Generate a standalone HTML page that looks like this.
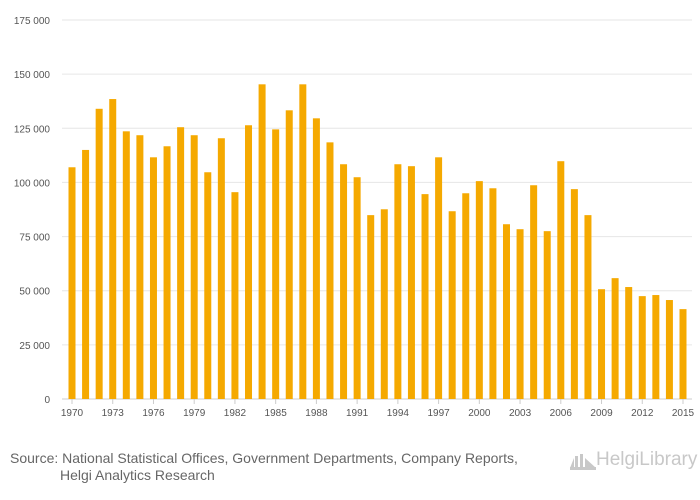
<!DOCTYPE html>
<html><head><meta charset="utf-8"><style>
body{margin:0;background:#fff;font-family:"Liberation Sans",sans-serif;}
#wrap{position:relative;width:700px;height:500px;overflow:hidden;}
.src{position:absolute;left:10px;top:450px;font-size:14px;color:#666;line-height:17px;}
.src span{display:block;padding-left:50px;}
.logo{position:absolute;left:570px;top:449px;font-size:19px;color:#c8c8c8;white-space:nowrap;display:flex;align-items:center;}
</style></head><body>
<div id="wrap">
<svg id="chart" width="700" height="440"></svg>
<div class="src">Source: National Statistical Offices, Government Departments, Company Reports,<span>Helgi Analytics Research</span></div>
<div class="logo"><svg width="26" height="20" viewBox="0 0 26 20"><path d="M0 18 L4 8 L4 18 Z M5 18 V6 H8 V18 Z M10 18 V4 H13 V18 Z M15 18 V8 L26 18 Z" fill="#c8c8c8"/><rect x="0" y="17" width="26" height="3" fill="#c8c8c8"/></svg>HelgiLibrary</div>
</div>
<script>
const years=[1970,1971,1972,1973,1974,1975,1976,1977,1978,1979,1980,1981,1982,1983,1984,1985,1986,1987,1988,1989,1990,1991,1992,1993,1994,1995,1996,1997,1998,1999,2000,2001,2002,2003,2004,2005,2006,2007,2008,2009,2010,2011,2012,2013,2014,2015];
const values=[107000,115000,134000,138500,123600,121800,111600,116700,125500,121800,104700,120400,95500,126400,145300,124500,133300,145300,129600,118500,108400,102400,84900,87600,108400,107500,94600,111600,86700,95000,100600,97300,80700,78400,98700,77500,109800,96900,84900,50700,55800,51700,47500,48000,45700,41500];
const yTicks=[0,25000,50000,75000,100000,125000,150000,175000];
const xLabelEvery=3;
const NS="http://www.w3.org/2000/svg";
const svg=document.getElementById('chart');
const x0=72,x1=683,yBase=399,yTop=20,yMax=175000;
const xs=i=>x0+(x1-x0)*i/(years.length-1);
const ys=v=>yBase-(yBase-yTop)*v/yMax;
function mk(t,a){const e=document.createElementNS(NS,t);for(const k in a)e.setAttribute(k,a[k]);svg.appendChild(e);return e;}
const fmt=v=>v===0?"0":String(v).replace(/\B(?=(\d{3})+(?!\d))/g," ");
yTicks.forEach(v=>{
 const g=mk('line',{x1:62,x2:692,y1:ys(v),y2:ys(v),stroke:v===0?'#ccc':'#e6e6e6','stroke-width':1});
 
 
 const t=mk('text',{x:50,y:ys(v)+4,'text-anchor':'end','font-size':10,fill:'#555'});
 t.textContent=fmt(v);
 
 
});
years.forEach((yr,i)=>{
 const r=mk('rect',{x:xs(i)-3.5,y:ys(values[i]),width:7,height:yBase-ys(values[i]),fill:'#f5a900'});
 
 
 if(i%xLabelEvery===0){
  const tk=mk('line',{x1:xs(i),x2:xs(i),y1:yBase,y2:yBase+5,stroke:'#ccc'});
  
  
  const t=mk('text',{x:xs(i),y:yBase+17,'text-anchor':'middle','font-size':10,fill:'#555'});
  t.textContent=yr;
  
  
 }
});
</script>
</body></html>
